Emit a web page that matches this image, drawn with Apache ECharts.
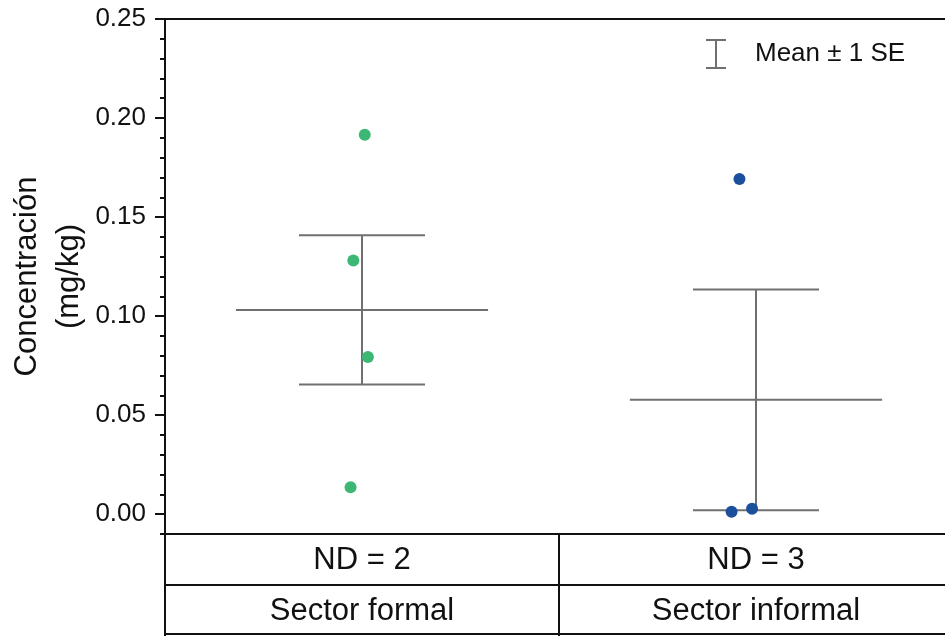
<!DOCTYPE html>
<html>
<head>
<meta charset="utf-8">
<script src="https://cdn.jsdelivr.net/npm/echarts@6/dist/echarts.min.js"></script>
<style>html,body{margin:0;padding:0;background:#fff;overflow:hidden;}#c{width:953px;height:636px;}</style>
</head>
<body>
<div id="c"></div>
<script>
// ---- data ----
const categories = ['Sector formal', 'Sector informal'];
const ndLabels = ['ND = 2', 'ND = 3'];
const formalValues = [0.1916, 0.1281, 0.0793, 0.0136];
const formalJitter = [0.007, -0.022, 0.015, -0.029];
const informalValues = [0.1692, 0.0012, 0.0028];
const informalJitter = [-0.042, -0.062, -0.010];
const yTickValues = [0, 0.05, 0.10, 0.15, 0.20, 0.25];
const legendLabel = 'Mean \u00b1 1 SE';

function meanSE(arr) {
  const n = arr.length;
  const m = arr.reduce((a, b) => a + b, 0) / n;
  const v = arr.reduce((a, b) => a + (b - m) * (b - m), 0) / (n - 1);
  return [m, Math.sqrt(v) / Math.sqrt(n)];
}
const groups = [formalValues, informalValues];
const errData = groups.map((g, i) => {
  const [m, se] = meanSE(g);
  return [i, m, m - se, m + se];
});
const formalPts = formalValues.map((v, i) => [0 + formalJitter[i], v]);
const informalPts = informalValues.map((v, i) => [1 + informalJitter[i], v]);

const FONT = 'Liberation Sans, Arial, sans-serif';
const BLACK = '#111';
const GREY = '#707070';
const lineAx = {show: true, onZero: false, lineStyle: {color: BLACK, width: 2}};

const chart = echarts.init(document.getElementById('c'), null, {renderer: 'canvas'});
chart.setOption({
  animation: false,
  backgroundColor: '#fff',
  textStyle: {fontFamily: FONT},
  grid: {left: 165, top: 19, right: 0, bottom: 102, containLabel: false, outerBoundsMode: 'none'},
  legend: {
    data: [{name: legendLabel, icon: 'path://M0,0H20V2H0Z M9,0H11V30H9Z M0,28H20V30H0Z'}],
    left: 706, top: 39, padding: 0,
    itemWidth: 20, itemHeight: 30,
    textStyle: {fontSize: 26, color: BLACK, fontFamily: FONT, padding: [0, 0, 0, 24]},
    selectedMode: false
  },
  xAxis: [
    {type: 'value', min: -0.5, max: 1.5, show: false},
    {type: 'category', data: ndLabels, position: 'bottom', boundaryGap: true,
     axisLine: lineAx,
     axisTick: {show: true, length: 51, lineStyle: {color: BLACK, width: 2}},
     axisLabel: {fontSize: 31, color: BLACK, margin: 11, fontFamily: FONT},
     splitLine: {show: false}},
    {type: 'category', data: categories, position: 'bottom', offset: 51, boundaryGap: true,
     axisLine: lineAx,
     axisTick: {show: true, length: 51, lineStyle: {color: BLACK, width: 2}},
     axisLabel: {fontSize: 31, color: BLACK, margin: 11, fontFamily: FONT},
     splitLine: {show: false}},
    {type: 'category', data: categories, position: 'bottom', offset: 100, boundaryGap: true,
     axisLine: lineAx,
     axisTick: {show: false}, axisLabel: {show: false}, splitLine: {show: false}},
    {type: 'category', data: categories, position: 'top', boundaryGap: true,
     axisLine: lineAx,
     axisTick: {show: false}, axisLabel: {show: false}, splitLine: {show: false}}
  ],
  yAxis: [
    {type: 'value', min: -0.01, max: 0.25, position: 'left',
     name: 'Concentración\n(mg/kg)', nameLocation: 'middle', nameGap: 75, nameRotate: 90,
     nameMoveOverlap: false,
     nameTextStyle: {fontSize: 31, color: BLACK, lineHeight: 42, fontFamily: FONT},
     axisLine: lineAx,
     axisTick: {show: true, length: 10, customValues: yTickValues, lineStyle: {color: BLACK, width: 2}},
     axisLabel: {show: true, customValues: yTickValues, fontSize: 26, color: BLACK, margin: 19,
       fontFamily: FONT, formatter: v => v.toFixed(2)},
     splitLine: {show: false}},
    {type: 'value', min: -0.01, max: 0.25, interval: 0.01, position: 'left',
     axisLine: {show: false, onZero: false},
     axisTick: {show: true, length: 5, lineStyle: {color: BLACK, width: 2}},
     axisLabel: {show: false}, splitLine: {show: false}}
  ],
  series: [
    {
      name: legendLabel, type: 'custom', xAxisIndex: 0, yAxisIndex: 0, z: 2,
      itemStyle: {color: GREY},
      data: errData,
      renderItem: function (params, api) {
        const x = api.value(0);
        const c = api.coord([x, api.value(1)]);
        const lo = api.coord([x, api.value(2)]);
        const hi = api.coord([x, api.value(3)]);
        const w = api.size([1, 0])[0];
        const mh = w * 0.32, ch = w * 0.16;
        const st = {stroke: GREY, lineWidth: 2};
        return {type: 'group', children: [
          {type: 'line', shape: {x1: c[0] - mh, y1: c[1], x2: c[0] + mh, y2: c[1]}, style: st},
          {type: 'line', shape: {x1: hi[0] - ch, y1: hi[1], x2: hi[0] + ch, y2: hi[1]}, style: st},
          {type: 'line', shape: {x1: lo[0] - ch, y1: lo[1], x2: lo[0] + ch, y2: lo[1]}, style: st},
          {type: 'line', shape: {x1: hi[0], y1: hi[1], x2: lo[0], y2: lo[1]}, style: st}
        ]};
      }
    },
    {name: 'formal', type: 'scatter', xAxisIndex: 0, yAxisIndex: 0, z: 3,
     symbolSize: 12, itemStyle: {color: '#3cb774', opacity: 1}, data: formalPts},
    {name: 'informal', type: 'scatter', xAxisIndex: 0, yAxisIndex: 0, z: 3,
     symbolSize: 12, itemStyle: {color: '#1c4f9c', opacity: 1}, data: informalPts}
  ]
});
</script>
</body>
</html>
